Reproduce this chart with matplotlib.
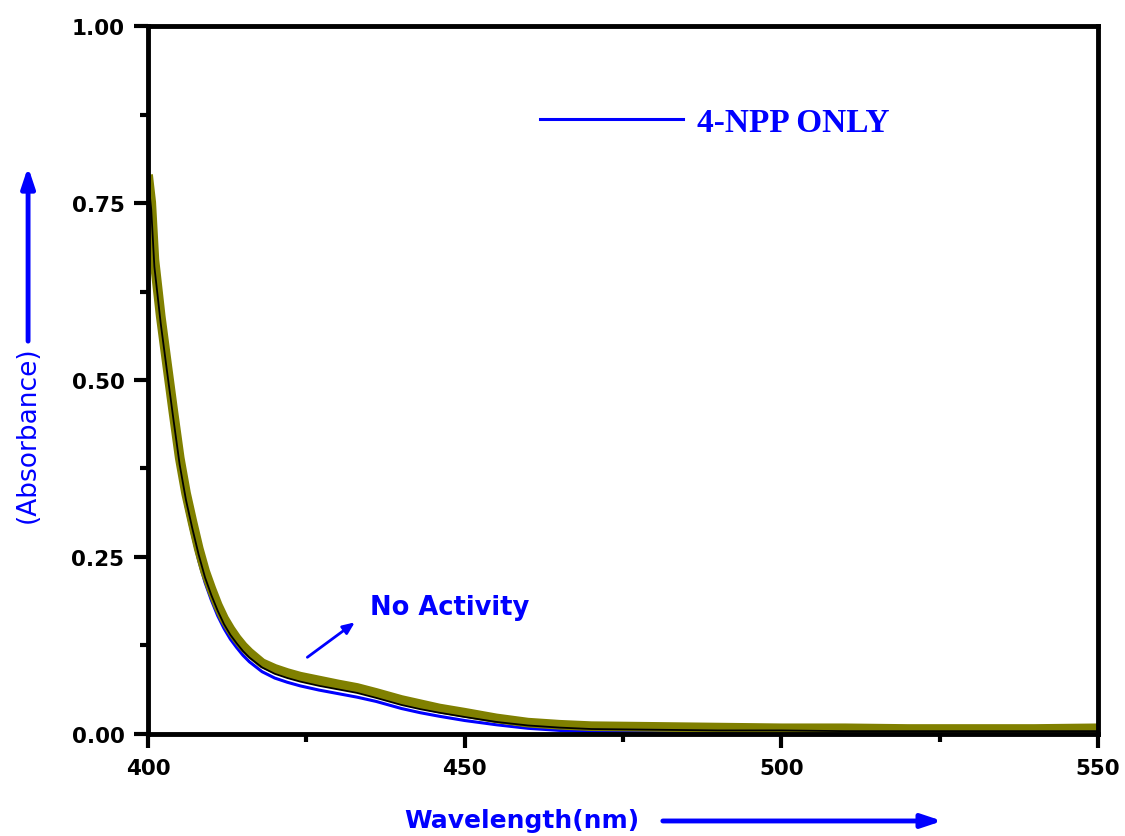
import numpy as np
import matplotlib
matplotlib.use("Agg")
import matplotlib.pyplot as plt
from matplotlib.ticker import MultipleLocator

# wavelength grid (nm) and absorbance traces
wavelength = [400, 400.5, 401, 401.5, 402, 403, 404, 405, 406, 407, 408, 409, 410, 411, 412,
              413, 414, 415, 416, 418, 420, 422, 424, 427, 430, 433, 436, 440, 443, 446,
              450, 455, 460, 465, 470, 480, 490, 500, 510, 520, 530, 540, 550]
olive_abs = [0.79, 0.751, 0.67, 0.63, 0.59, 0.522, 0.455, 0.39, 0.34, 0.30, 0.262, 0.23,
             0.205, 0.182, 0.163, 0.148, 0.135, 0.124, 0.115, 0.100, 0.092, 0.086, 0.081,
             0.0755, 0.070, 0.065, 0.058, 0.048, 0.042, 0.036, 0.030, 0.022, 0.016, 0.013,
             0.011, 0.010, 0.009, 0.008, 0.008, 0.007, 0.007, 0.007, 0.008]
black_abs = [0.785, 0.741, 0.660, 0.620, 0.580, 0.512, 0.445, 0.380, 0.330, 0.290, 0.253,
             0.221, 0.196, 0.174, 0.155, 0.140, 0.128, 0.117, 0.108, 0.094, 0.085, 0.079,
             0.074, 0.068, 0.063, 0.058, 0.051, 0.041, 0.035, 0.030, 0.024, 0.017, 0.012,
             0.009, 0.007, 0.006, 0.005, 0.005, 0.004, 0.004, 0.004, 0.004, 0.004]
blue_abs = [0.79, 0.735, 0.653, 0.612, 0.572, 0.503, 0.436, 0.372, 0.322, 0.282, 0.245,
            0.214, 0.189, 0.167, 0.149, 0.134, 0.122, 0.111, 0.102, 0.088, 0.079, 0.073,
            0.068, 0.062, 0.057, 0.052, 0.046, 0.036, 0.030, 0.025, 0.019, 0.013, 0.008,
            0.005, 0.003, 0.002, 0.001, 0.001, 0.001, 0.001, 0.001, 0.001, 0.001]

x_ticks = [400, 450, 500, 550]
y_ticks = [0.00, 0.25, 0.50, 0.75, 1.00]

fig = plt.figure(figsize=(11.25, 8.37), dpi=100)
ax = fig.add_axes([0.1316, 0.1219, 0.8444, 0.8458])

blue_line, = ax.plot(wavelength, blue_abs, color='#0000ff', lw=2.2, label='4-NPP ONLY')
ax.plot(wavelength, olive_abs, color='#808000', lw=7, solid_capstyle='butt')
ax.plot(wavelength, black_abs, color='black', lw=1.3)

ax.set_xlim(400, 550)
ax.set_ylim(0, 1.0)
ax.set_xticks(x_ticks)
ax.set_yticks(y_ticks)
ax.set_yticklabels(['%.2f' % v for v in y_ticks])
ax.xaxis.set_minor_locator(MultipleLocator(25))
ax.yaxis.set_minor_locator(MultipleLocator(0.125))
ax.tick_params(which='major', direction='out', length=10, width=3, pad=7,
               labelsize=15.5, top=False, right=False)
ax.tick_params(which='minor', direction='out', length=5.5, width=3, top=False, right=False)
for lab in ax.get_xticklabels() + ax.get_yticklabels():
    lab.set_fontweight('bold')
for sp in ax.spines.values():
    sp.set_linewidth(3.5)

# legend
ax.legend(handles=[blue_line], loc='center left', bbox_to_anchor=(0.4126, 0.864),
          frameon=False, borderpad=0, borderaxespad=0, handlelength=4.3,
          handletextpad=0.42, labelcolor='#0000ff',
          prop={'family': 'Liberation Serif', 'weight': 'bold', 'size': 24})

# annotation inside plot
ax.annotate('', xy=(433.0, 0.160), xytext=(424.8, 0.106),
            arrowprops=dict(arrowstyle='-|>,head_width=0.3,head_length=0.7',
                            lw=2, color='#0000ff'))
ax.text(435.1, 0.179, 'No Activity', color='#0000ff', fontsize=18.5,
        fontweight='bold', va='center', ha='left')

# axis labels with arrows
ax.text(-0.1263, 0.4237, '(Absorbance)', transform=ax.transAxes, rotation=90,
        color='#0000ff', fontsize=19, ha='center', va='center')
ax.annotate('', xy=(-0.1263, 0.805), xytext=(-0.1263, 0.551), xycoords='axes fraction',
            textcoords='axes fraction', annotation_clip=False,
            arrowprops=dict(arrowstyle='-|>,head_width=0.4,head_length=1.2',
                            lw=3.5, color='#0000ff'))
ax.text(0.3937, -0.1215, 'Wavelength(nm)', transform=ax.transAxes,
        color='#0000ff', fontsize=18, fontweight='bold', ha='center', va='center')
ax.annotate('', xy=(0.839, -0.1229), xytext=(0.539, -0.1229), xycoords='axes fraction',
            textcoords='axes fraction', annotation_clip=False,
            arrowprops=dict(arrowstyle='-|>,head_width=0.4,head_length=1.2',
                            lw=3.5, color='#0000ff'))

fig.savefig('out.png', dpi=100)
